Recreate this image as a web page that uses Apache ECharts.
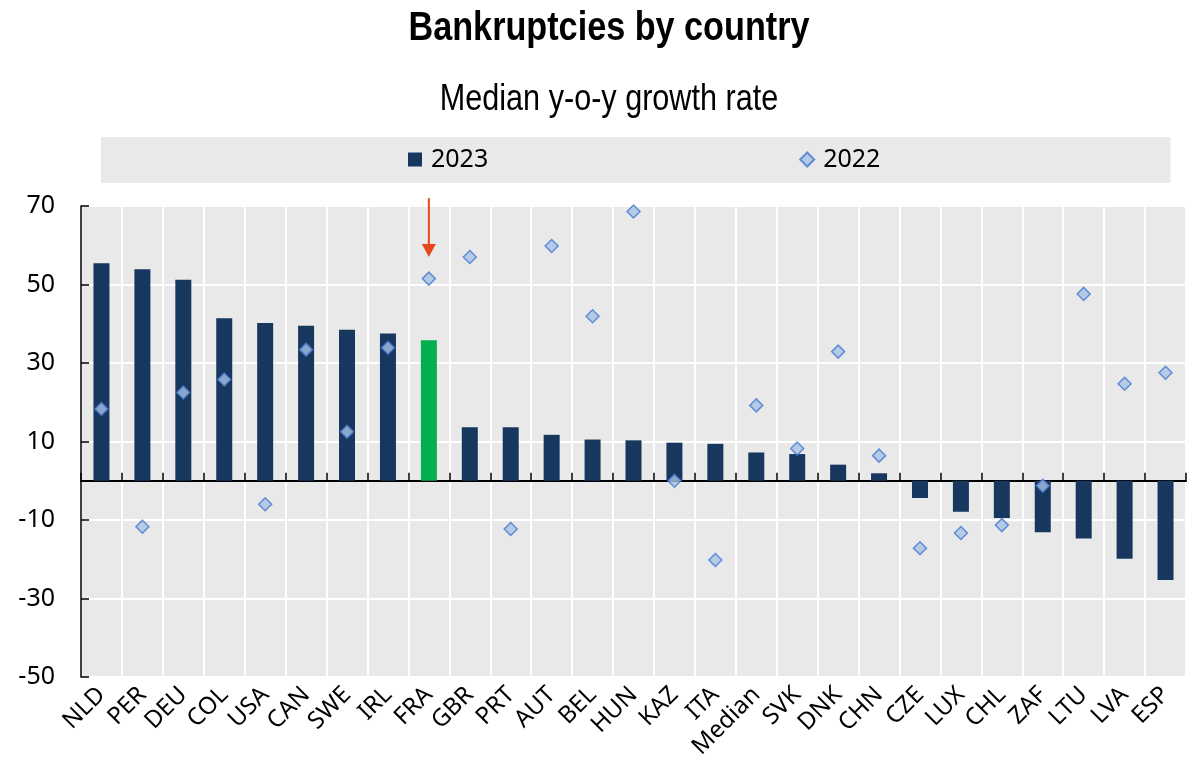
<!DOCTYPE html>
<html>
<head>
<meta charset="utf-8">
<title>Bankruptcies by country</title>
<script src="https://cdn.jsdelivr.net/npm/echarts@6/dist/echarts.min.js"></script>
<style>
  html, body { margin: 0; padding: 0; background: #ffffff; }
  #chart { width: 1196px; height: 764px; }
</style>
</head>
<body>
<div id="chart"></div>
<script>
// Countries, ordered by 2023 growth
const categories = ['NLD', 'PER', 'DEU', 'COL', 'USA', 'CAN', 'SWE', 'IRL', 'FRA', 'GBR',
  'PRT', 'AUT', 'BEL', 'HUN', 'KAZ', 'ITA', 'Median', 'SVK', 'DNK', 'CHN',
  'CZE', 'LUX', 'CHL', 'ZAF', 'LTU', 'LVA', 'ESP'];

// Median year-on-year growth of bankruptcies, %
const growth2023 = [55.4, 53.9, 51.2, 41.4, 40.2, 39.5, 38.5, 37.5, 35.8, 13.6,
  13.6, 11.7, 10.5, 10.3, 9.7, 9.4, 7.2, 6.8, 4.1, 1.9,
  -4.4, -7.9, -9.5, -13.1, -14.7, -19.9, -25.3];
const growth2022 = [18.3, -11.7, 22.5, 25.8, -6.0, 33.4, 12.5, 33.9, 51.5, 57.0,
  -12.3, 59.8, 41.9, 68.6, 0.0, -20.2, 19.2, 8.2, 32.9, 6.4,
  -17.2, -13.3, -11.3, -1.3, 47.6, 24.7, 27.5];

// Value axis ticks
const yMin = -50, yMax = 70, yStep = 20;

// Highlighted country and the arrow pointing at it (value span of the arrow)
const highlighted = 'FRA';
const arrowFrom = 72, arrowTo = 57;

const titleText = 'Bankruptcies by country';
const subtitleText = 'Median y-o-y growth rate';

const NAVY = '#17375E';
const GREEN = '#00B050';
const PANEL = '#E9E9E9';
const FONT = '"Noto Sans", "Open Sans", sans-serif';
const TITLE_FONT = '"Liberation Sans", Arial, sans-serif';

const chart = echarts.init(document.getElementById('chart'), null, { renderer: 'canvas' });

const barData = categories.map((c, i) => ({
  value: growth2023[i],
  itemStyle: { color: c === highlighted ? GREEN : NAVY }
}));

const option = {
  animation: false,
  backgroundColor: '#ffffff',
  legend: {
    left: 101, top: 137,
    padding: [10, 290, 11, 307],
    itemGap: 311,
    itemWidth: 14, itemHeight: 14,
    backgroundColor: PANEL,
    textStyle: { fontFamily: FONT, fontSize: 25, color: '#000', padding: [0, 0, 0, 4] },
    data: [
      { name: '2023', icon: 'rect' },
      { name: '2022', icon: 'diamond' }
    ]
  },
  grid: {
    left: 81, right: 10, top: 206, bottom: 87,
    show: true, backgroundColor: PANEL, borderWidth: 0
  },
  xAxis: [
    {
      type: 'category',
      data: categories,
      position: 'bottom',
      axisLine: { show: false, onZero: false },
      axisTick: { show: false },
      splitLine: { show: true, lineStyle: { color: '#ffffff', width: 2 } },
      axisLabel: {
        interval: 0, rotate: 45, margin: 14,
        fontFamily: FONT, fontSize: 24, color: '#000'
      }
    },
    {
      type: 'category',
      data: categories,
      position: 'bottom',
      axisLine: { show: true, onZero: true, lineStyle: { color: '#000', width: 2 } },
      axisTick: { show: true, inside: true, length: 8, interval: 0, lineStyle: { color: '#000', width: 1.5 } },
      axisLabel: { show: false },
      splitLine: { show: false }
    }
  ],
  yAxis: {
    type: 'value',
    min: yMin, max: yMax, interval: yStep,
    axisLine: { show: true, lineStyle: { color: '#000', width: 1.5 } },
    axisTick: { show: true, inside: true, length: 8, lineStyle: { color: '#000', width: 1.5 } },
    splitLine: { show: true, lineStyle: { color: '#ffffff', width: 2 } },
    axisLabel: { margin: 26, fontFamily: FONT, fontSize: 25, color: '#000' }
  },
  series: [
    {
      name: '2023',
      type: 'bar',
      data: barData,
      barWidth: 16,
      itemStyle: { color: NAVY },
      z: 2
    },
    {
      name: '2022',
      type: 'scatter',
      data: growth2022,
      symbol: 'diamond',
      symbolSize: 13,
      itemStyle: { color: '#A6C2E6', borderColor: '#4579CF', borderWidth: 1.5 },
      z: 3
    }
  ]
};

chart.setOption(option);

// Condensed headings and the arrow above the highlighted bar (placed via the chart's scales)
const arrowStart = chart.convertToPixel({ xAxisIndex: 0, yAxisIndex: 0 }, [highlighted, arrowFrom]);
const arrowTip = chart.convertToPixel({ xAxisIndex: 0, yAxisIndex: 0 }, [highlighted, arrowTo]);
const headH = 13, headW = 7;
chart.setOption({
  graphic: [
    {
      type: 'text',
      x: 609, y: 9, scaleX: 0.855,
      style: {
        text: titleText, x: 0, y: 0,
        textAlign: 'center', textVerticalAlign: 'top',
        fontFamily: TITLE_FONT, fontWeight: 'bold', fontSize: 40, fill: '#000'
      }
    },
    {
      type: 'text',
      x: 609, y: 82, scaleX: 0.85,
      style: {
        text: subtitleText, x: 0, y: 0,
        textAlign: 'center', textVerticalAlign: 'top',
        fontFamily: TITLE_FONT, fontWeight: 'normal', fontSize: 36, fill: '#000'
      }
    },
    {
      type: 'line',
      shape: { x1: arrowStart[0], y1: arrowStart[1], x2: arrowTip[0], y2: arrowTip[1] - headH + 1 },
      style: { stroke: '#E8471D', lineWidth: 2 },
      z: 10
    },
    {
      type: 'polygon',
      shape: { points: [[arrowTip[0] - headW, arrowTip[1] - headH], [arrowTip[0] + headW, arrowTip[1] - headH], [arrowTip[0], arrowTip[1]]] },
      style: { fill: '#E8471D' },
      z: 10
    }
  ]
});
</script>
</body>
</html>
